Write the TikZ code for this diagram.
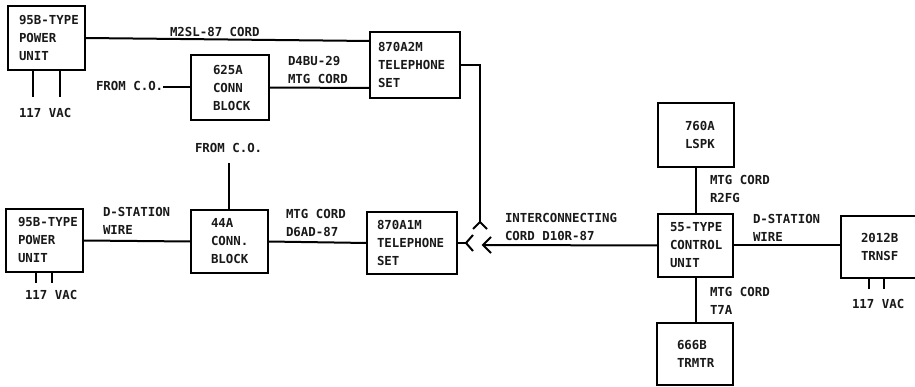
\documentclass[tikz,border=0pt]{standalone}
\usepackage{fontspec}
\newfontfamily\plotfont{DejaVu Sans Mono}[BoldFont={DejaVu Sans Mono Bold},HyphenChar=None]
\tikzset{
  txt/.style={font=\plotfont\bfseries\fontsize{12.4}{18}\selectfont, align=left, inner sep=0pt, outer sep=0pt, text=black!90},
  lbl/.style={txt, anchor=west},
  box/.style n args={3}{txt, draw=black, line width=2pt, anchor=north west, minimum width=#1pt, minimum height=#2pt, inner ysep=0pt, inner xsep=#3pt, text width={(#1-2*#3)*1pt}},
  openbox/.style n args={3}{box={#1}{#2}{#3}, draw=none},
  wire/.style={draw=black, line width=2pt},
}
\begin{document}
\begin{tikzpicture}[x=1pt,y=-1pt]
\useasboundingbox (0,0) rectangle (915,387);
% boxes
\node[box={77}{64}{11}] (pwrA) at (8,6) {95B-TYPE\\POWER\\UNIT};
\node[box={78}{65}{22}] (connA) at (191,55) {625A\\CONN\\BLOCK};
\node[box={90}{66}{8}] (telA) at (370,32) {870A2M\\TELEPHONE\\SET};
\node[box={77}{63}{12}] (pwrB) at (6,209) {95B-TYPE\\POWER\\UNIT};
\node[box={77}{63}{20}] (connB) at (191,210) {44A\\CONN.\\BLOCK};
\node[box={90}{62}{10}] (telB) at (367,212) {870A1M\\TELEPHONE\\SET};
\node[box={76}{64}{27}] (lspk) at (658,103) {760A\\LSPK};
\node[box={75}{63}{12}] (ctrl) at (658,214) {55-TYPE\\CONTROL\\UNIT};
\node[box={76}{62}{20}] (trmtr) at (657,323) {666B\\TRMTR};
\node[openbox={74}{62}{20}] (trnsf) at (841,216) {2012B\\TRNSF};
\draw[wire] (trnsf.north east) -- (trnsf.north west) -- (trnsf.south west) -- (trnsf.south east);
% labels
\node[lbl] (lM2) at (170,32) {M2SL-87 CORD};
\node[lbl] (lD4) at (288,70) {D4BU-29\\MTG CORD};
\node[lbl] (fromA) at (96,86) {FROM C.O.};
\node[lbl] (vacA) at (19,113) {117 VAC};
\node[lbl] (fromB) at (195,148) {FROM C.O.};
\node[lbl] (lDA) at (103,221) {D-STATION\\WIRE};
\node[lbl] (vacB) at (25,295) {117 VAC};
\node[lbl] (lD6) at (286,223) {MTG CORD\\D6AD-87};
\node[lbl] (lInt) at (505,227) {INTERCONNECTING\\CORD D10R-87};
\node[lbl] (lR2) at (710,189) {MTG CORD\\R2FG};
\node[lbl] (lDB) at (753,228) {D-STATION\\WIRE};
\node[lbl] (lT7) at (710,301) {MTG CORD\\T7A};
\node[lbl] (vacC) at (852,304) {117 VAC};
% free ends
\coordinate (pA1) at (33,97);
\coordinate (pA2) at (60,97);
\coordinate (pB1) at (36,283);
\coordinate (pB2) at (52,283);
\coordinate (pC1) at (869,289);
\coordinate (pC2) at (884,289);
\coordinate (fromBend) at (229,163);
\coordinate (forkApex) at (480,222);
\coordinate (forkL) at (473,229);
\coordinate (forkR) at (487,229);
\coordinate (jackApex) at (466,243);
\coordinate (jackU) at (473,235);
\coordinate (jackD) at (473,251);
\coordinate (plugApex) at (483,245);
\coordinate (plugU) at (491,237);
\coordinate (plugD) at (491,253);
% connectors
\draw[wire] (pwrA.east) -- ([yshift=24pt]telA.west);
\draw[wire] (fromA.east |- connA.west) -- (connA.west);
\draw[wire] (connA.east) -- ([yshift=-23pt]telA.west);
\draw[wire] (pA1 |- pwrA.south) -- (pA1);
\draw[wire] (pA2 |- pwrA.south) -- (pA2);
\draw[wire] (pB1 |- pwrB.south) -- (pB1);
\draw[wire] (pB2 |- pwrB.south) -- (pB2);
\draw[wire] (pC1 |- trnsf.south) -- (pC1);
\draw[wire] (pC2 |- trnsf.south) -- (pC2);
\draw[wire] (fromBend) -- (fromBend |- connB.north);
\draw[wire] (pwrB.east) -- (connB.west);
\draw[wire] (connB.east) -- (telB.west);
\draw[wire] (telA.east) -| (forkApex);
\draw[wire] (forkL) -- (forkApex) -- (forkR);
\draw[wire] (telB.east) -- (telB.east -| jackApex);
\draw[wire] (jackU) -- (jackApex) -- (jackD);
\draw[wire] (ctrl.west) -- (plugApex);
\draw[wire] (plugU) -- (plugApex) -- (plugD);
\draw[wire] (lspk.south) -- (lspk.south |- ctrl.north);
\draw[wire] (ctrl.south) -- (ctrl.south |- trmtr.north);
\draw[wire] (ctrl.east) -- (ctrl.east -| trnsf.west);
\end{tikzpicture}
\end{document}
